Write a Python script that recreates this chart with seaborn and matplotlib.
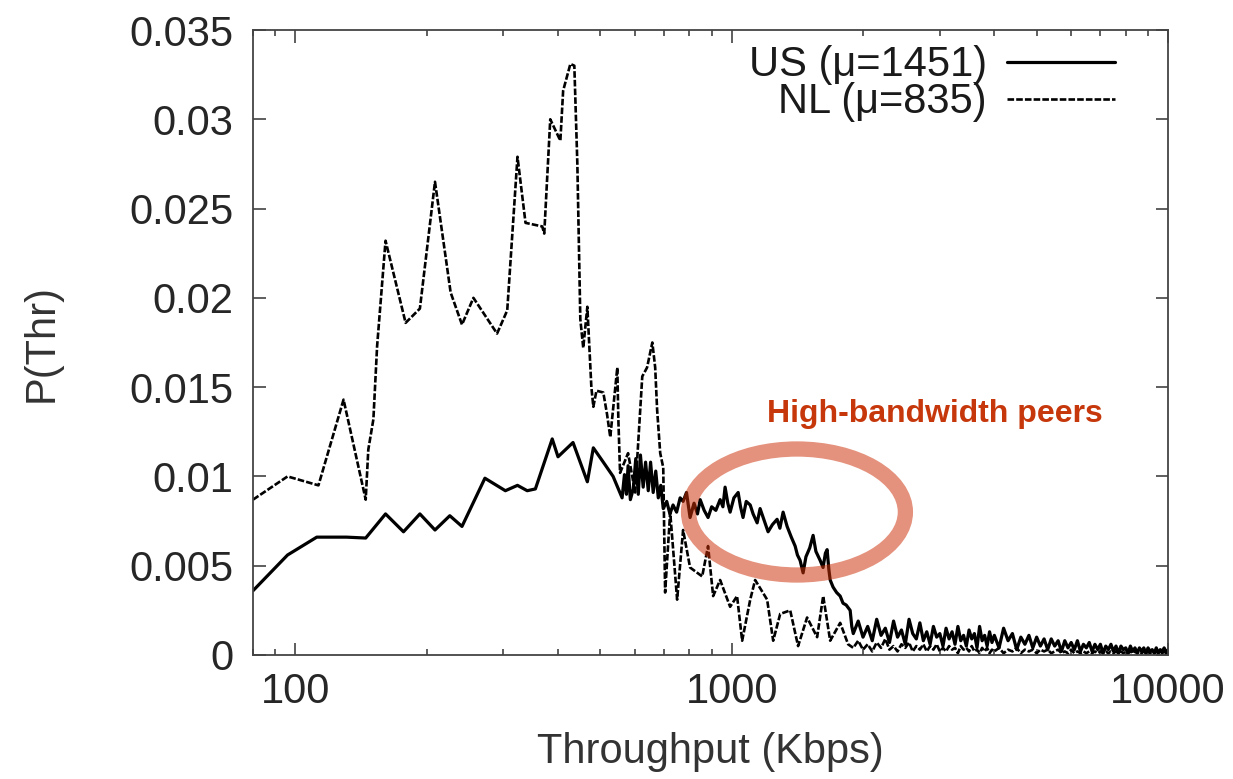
import numpy as np
import pandas as pd
import matplotlib
matplotlib.use("Agg")
import matplotlib.pyplot as plt
from matplotlib.patches import Ellipse
from matplotlib.ticker import FixedLocator, NullFormatter
import seaborn as sns

# throughput (Kbps) vs P(Thr)
US_X = [80, 96, 112, 131, 145, 161, 177, 193, 209, 226, 241, 272, 303, 323, 340,
        355, 388, 400, 433, 467, 482, 508, 535, 561, 568, 574, 579, 586, 595, 603,
        611, 618, 627, 635, 644, 652, 661, 670, 679, 688, 697, 710, 722, 734, 748,
        762, 774, 788, 803, 820, 835, 847, 865, 883, 900, 920, 941, 955, 966, 980,
        992, 1012, 1035, 1048, 1062, 1080, 1103, 1120, 1144, 1162, 1185, 1212, 1240,
        1271, 1290, 1312, 1340, 1370, 1398, 1415, 1435, 1458, 1480, 1510, 1537, 1560,
        1595, 1620, 1640, 1655, 1670, 1682, 1708, 1740, 1773, 1800, 1830, 1869, 1885]
US_Y = [0.0036, 0.0056, 0.0066, 0.0066, 0.00655, 0.0079, 0.0069, 0.0079, 0.0070,
        0.0078, 0.0072, 0.0099, 0.0092, 0.0095, 0.0092, 0.0093, 0.0121, 0.0111,
        0.0119, 0.0097, 0.0116, 0.0108, 0.0100, 0.0088, 0.0101, 0.0090, 0.0106,
        0.0087, 0.0093, 0.0110, 0.0090, 0.0112, 0.0094, 0.0108, 0.0092, 0.0108,
        0.0091, 0.0103, 0.0088, 0.0095, 0.0082, 0.0086, 0.0079, 0.0084, 0.0080,
        0.0088, 0.0086, 0.0091, 0.0077, 0.0085, 0.0079, 0.0087, 0.0081, 0.0077,
        0.0083, 0.0081, 0.0087, 0.0083, 0.0094, 0.0085, 0.0080, 0.0088, 0.0091,
        0.0083, 0.0077, 0.0086, 0.0084, 0.0079, 0.0074, 0.0082, 0.0076, 0.0069,
        0.0073, 0.0076, 0.0071, 0.0080, 0.0072, 0.0066, 0.0061, 0.0056, 0.0053,
        0.0046, 0.0055, 0.0060, 0.0067, 0.0058, 0.0053, 0.0049, 0.0057, 0.0059,
        0.0048, 0.0042, 0.0038, 0.0035, 0.0033, 0.0029, 0.0028, 0.0025, 0.0016]

NL_X = [80, 96, 113, 129, 145, 147, 151, 154, 161, 179, 193, 209, 227, 241, 256,
        290, 306, 323, 337, 368, 372, 384, 405, 411, 427, 436, 443, 450, 457, 467,
        477, 482, 490, 508, 518, 527, 547, 550, 555, 579, 601, 624, 640, 658, 668,
        675, 686, 697, 704, 723, 750, 774, 803, 834, 856, 883, 907, 941, 992, 1029,
        1057, 1103, 1132, 1206, 1245, 1292, 1362, 1420, 1489, 1570, 1621, 1682, 1773,
        1849]
NL_Y = [0.0087, 0.0100, 0.0095, 0.0143, 0.0087, 0.0115, 0.0132, 0.0173, 0.0232,
        0.0186, 0.0194, 0.0265, 0.0203, 0.0185, 0.0200, 0.0180, 0.0193, 0.0279,
        0.0242, 0.0240, 0.0236, 0.0300, 0.0288, 0.0316, 0.0331, 0.0330, 0.0275,
        0.0188, 0.0172, 0.0195, 0.0150, 0.0139, 0.0148, 0.0147, 0.0135, 0.0122,
        0.0161, 0.0132, 0.0102, 0.0113, 0.0091, 0.0156, 0.0161, 0.0175, 0.0161,
        0.0137, 0.0113, 0.0105, 0.0035, 0.0080, 0.0031, 0.0070, 0.0049, 0.0046,
        0.0044, 0.0061, 0.0033, 0.0042, 0.0027, 0.0033, 0.0008, 0.0031, 0.0042,
        0.0031, 0.0008, 0.0023, 0.0025, 0.0005, 0.0021, 0.0010, 0.0033, 0.0008,
        0.0018, 0.0006]

# shared x bins for the long noisy tail
TAIL_X = [1900, 1950, 2000, 2050, 2100, 2150, 2200, 2250, 2300, 2350, 2400, 2450,
          2500, 2550, 2600, 2650, 2700, 2750, 2800, 2850, 2900, 2950, 3000, 3050,
          3100, 3150, 3200, 3250, 3300, 3350, 3400, 3450, 3500, 3550, 3600, 3650,
          3700, 3750, 3800, 3850, 3900, 3950,
          4000, 4100, 4200, 4300, 4400, 4500, 4600, 4700, 4800, 4900, 5000, 5100,
          5200, 5300, 5400, 5500, 5600, 5700, 5800, 5900, 6000, 6100, 6200, 6300,
          6400, 6500, 6600, 6700, 6800, 6900, 7000, 7100, 7200, 7300, 7400, 7500,
          7600, 7700, 7800, 7900, 8000, 8100, 8200, 8300, 8400, 8500, 8600, 8700,
          8800, 8900, 9000, 9100, 9200, 9300, 9400, 9500, 9600, 9700, 9800, 9900,
          10000]
US_TAIL_Y = [0.0012, 0.0019, 0.0010, 0.0016, 0.0008, 0.0020, 0.0011, 0.0015, 0.0007, 0.0019,
             0.0010, 0.0014, 0.0006, 0.0020, 0.0012, 0.0009, 0.0018, 0.0008, 0.0013, 0.0006,
             0.0016, 0.0010, 0.0012, 0.0005, 0.0015, 0.0009, 0.0013, 0.0006, 0.0016, 0.0008,
             0.0011, 0.0005, 0.0014, 0.0009, 0.0012, 0.0004, 0.0016, 0.0008, 0.0011, 0.0005,
             0.0013, 0.0007,
             0.0011, 0.0004, 0.0015, 0.0008, 0.0012, 0.0003, 0.0010, 0.0006, 0.0011, 0.0004,
             0.0010, 0.0005, 0.0009, 0.0003, 0.0009, 0.0005, 0.0008, 0.0002, 0.0008, 0.0004,
             0.0007, 0.0003, 0.0008, 0.0002, 0.0006, 0.0004, 0.0007, 0.0002, 0.0006, 0.0003,
             0.0006, 0.0001, 0.0005, 0.0003, 0.0006, 0.0002, 0.0005, 0.0001, 0.0005, 0.0003,
             0.0004, 0.0001, 0.0005, 0.0002, 0.0004, 0.0001, 0.0004, 0.0002, 0.0004, 0.0001,
             0.0004, 0.0002, 0.0003, 0.0001, 0.0004, 0.0001, 0.0003, 0.0002, 0.0004, 0.0001,
             0.0003]
NL_TAIL_Y = [0.0004, 0.0008, 0.0003, 0.0006, 0.0002, 0.0007, 0.0004, 0.0009, 0.0003, 0.0005,
             0.0002, 0.0006, 0.0004, 0.0007, 0.0002, 0.0005, 0.0003, 0.0006, 0.0002, 0.0005,
             0.0003, 0.0006, 0.0002, 0.0004, 0.0002, 0.0005, 0.0003, 0.0004, 0.0001, 0.0005,
             0.0003, 0.0004, 0.0002, 0.0005, 0.0002, 0.0003, 0.0001, 0.0004, 0.0002, 0.0004,
             0.0001, 0.0003,
             0.0002, 0.0004, 0.0001, 0.0003, 0.0002, 0.0004, 0.0001, 0.0003, 0.0002, 0.0003,
             0.0001, 0.0003, 0.0002, 0.0003, 0.0001, 0.0002, 0.0003, 0.0001, 0.0002, 0.0001,
             0.0003, 0.0001, 0.0002, 0.0001, 0.0002, 0.0001, 0.0002, 0.0001, 0.0002, 0.0001,
             0.0002, 0.0001, 0.0002, 0.0001, 0.0002, 0.0001, 0.0002, 0.0001, 0.0002, 0.0001,
             0.0002, 0.0001, 0.0002, 0.0001, 0.0002, 0.0001, 0.0002, 0.0001, 0.0002, 0.0001,
             0.0002, 0.0001, 0.0002, 0.0001, 0.0002, 0.0001, 0.0002, 0.0001, 0.0002, 0.0001,
             0.0002]

LEGEND_LABELS = ["US (\u03bc=1451)", "NL (\u03bc=835)"]
X_TICKS = [100, 1000, 10000]
X_TICK_LABELS = ["100", "1000", "10000"]
Y_TICKS = [0, 0.005, 0.01, 0.015, 0.02, 0.025, 0.03, 0.035]
Y_TICK_LABELS = ["0", "0.005", "0.01", "0.015", "0.02", "0.025", "0.03", "0.035"]
NOTE = "High-bandwidth peers"

FS = 30

sns.set_style("ticks")
plt.rcParams["font.family"] = ["Liberation Sans", "DejaVu Sans"]

us = pd.DataFrame({"x": US_X + TAIL_X, "y": US_Y + US_TAIL_Y})
nl = pd.DataFrame({"x": NL_X + TAIL_X, "y": NL_Y + NL_TAIL_Y})

fig = plt.figure(figsize=(12.33, 7.79), dpi=100)
ax = fig.add_axes([253 / 1233, 124 / 779, 915 / 1233, 625 / 779])

sns.lineplot(data=us, x="x", y="y", estimator=None, sort=False, color="black",
             lw=2.3, label=LEGEND_LABELS[0], ax=ax)
sns.lineplot(data=nl, x="x", y="y", estimator=None, sort=False, color="black",
             lw=1.9, linestyle=(0, (2.5, 0.8)), label=LEGEND_LABELS[1], ax=ax)

ax.set_xscale("log")
ax.set_xlim(80, 10000)
ax.set_ylim(0, 0.035)
ax.xaxis.set_major_locator(FixedLocator(X_TICKS))
ax.set_xticklabels(X_TICK_LABELS)
minor = [m * 10 ** k for k in (1, 2, 3) for m in range(2, 10)]
ax.xaxis.set_minor_locator(FixedLocator([v for v in minor if 80 <= v <= 10000]))
ax.xaxis.set_minor_formatter(NullFormatter())
ax.set_yticks(Y_TICKS)
ax.set_yticklabels(Y_TICK_LABELS)

ax.tick_params(which="both", direction="in", top=True, right=True,
               labelsize=FS, labelcolor="#262626", color="#333333", width=1.1)
ax.tick_params(which="major", length=9)
ax.tick_params(which="minor", length=4)
ax.tick_params(axis="x", which="major", pad=12)
ax.tick_params(axis="y", which="major", pad=14)
for sp in ax.spines.values():
    sp.set_color("#444444")
    sp.set_linewidth(1.3)

ax.set_xlabel("Throughput (Kbps)", fontsize=FS, color="#333333", labelpad=15)
ax.set_ylabel("P(Thr)", fontsize=FS, color="#333333", labelpad=49)

leg = ax.legend(loc="upper right", bbox_to_anchor=(0.959, 1.0), frameon=False,
                markerfirst=False, fontsize=FS, handlelength=2.6,
                labelspacing=-0.07, borderpad=0, borderaxespad=0.37,
                handletextpad=0.48)
for t in leg.get_texts():
    t.set_color("#1a1a1a")

ring = Ellipse((0.5945, 0.2288), 0.237, 0.2016, transform=ax.transAxes, fill=False,
               edgecolor=(205 / 255, 49 / 255, 9 / 255), alpha=0.53, lw=11, zorder=5)
ax.add_patch(ring)
ax.text(0.7454, 0.386, NOTE, transform=ax.transAxes, ha="center", va="center",
        fontsize=23, fontweight="bold", color="#C6380C")

fig.savefig("out.png", dpi=100)
